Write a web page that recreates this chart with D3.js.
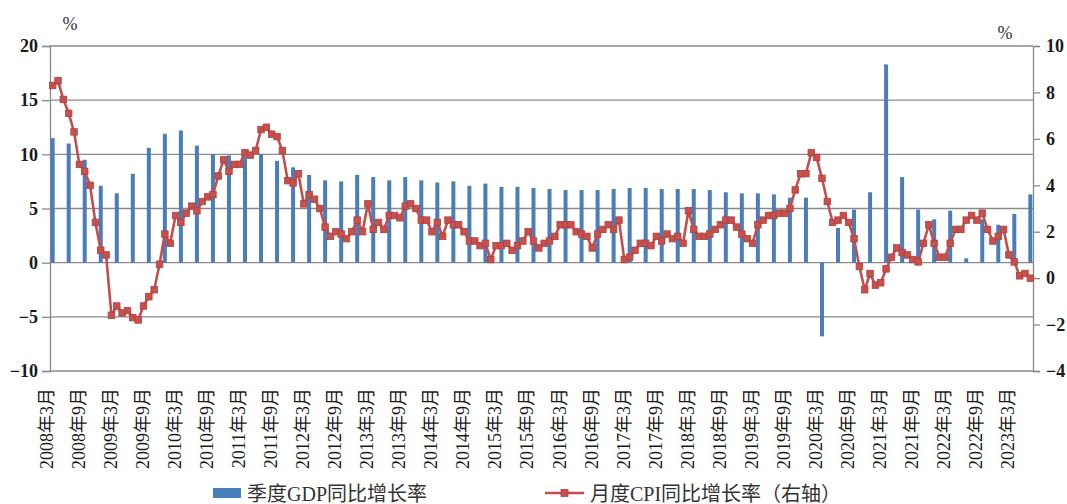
<!DOCTYPE html>
<html>
<head>
<meta charset="utf-8">
<script src="https://cdn.jsdelivr.net/npm/d3@7"></script>
<style>
  html, body { margin: 0; padding: 0; background: #fff; }
  svg { display: block; }
</style>
</head>
<body>
<svg id="chart" width="1067" height="504"></svg>
<script>
// ---------- data ----------
const startYear = 2008, startMonth = 3;           // first monthly category
const tickLabels = ["2008年3月","2008年9月","2009年3月","2009年9月","2010年3月","2010年9月",
  "2011年3月","2011年9月","2012年3月","2012年9月","2013年3月","2013年9月","2014年3月","2014年9月",
  "2015年3月","2015年9月","2016年3月","2016年9月","2017年3月","2017年9月","2018年3月","2018年9月",
  "2019年3月","2019年9月","2020年3月","2020年9月","2021年3月","2021年9月","2022年3月","2022年9月",
  "2023年3月"];
// quarterly GDP y/y growth, 2008Q1 .. 2023Q2 (left axis)
const gdpValues = [
  11.5, 11.0, 9.5, 7.1,
  6.4, 8.2, 10.6, 11.9,
  12.2, 10.8, 10.0, 9.9,
  9.8, 10.0, 9.4, 8.8,
  8.1, 7.6, 7.5, 8.1,
  7.9, 7.6, 7.9, 7.6,
  7.4, 7.5, 7.1, 7.3,
  7.0, 7.0, 6.9, 6.8,
  6.7, 6.7, 6.7, 6.8,
  6.9, 6.9, 6.8, 6.8,
  6.8, 6.7, 6.5, 6.4,
  6.4, 6.3, 6.0, 6.0,
  -6.8, 3.2, 4.9, 6.5,
  18.3, 7.9, 4.9, 4.0,
  4.8, 0.4, 4.0, 3.5,
  4.5, 6.3
];
// monthly CPI y/y growth, 2008-03 .. 2023-06 (right axis)
const cpiValues = [
  8.3, 8.5, 7.7, 7.1, 6.3, 4.9, 4.6, 4.0, 2.4, 1.2,
  1.0, -1.6, -1.2, -1.5, -1.4, -1.7, -1.8, -1.2, -0.8, -0.5, 0.6, 1.9,
  1.5, 2.7, 2.4, 2.8, 3.1, 2.9, 3.3, 3.5, 3.6, 4.4, 5.1, 4.6,
  4.9, 4.9, 5.4, 5.3, 5.5, 6.4, 6.5, 6.2, 6.1, 5.5, 4.2, 4.1,
  4.5, 3.2, 3.6, 3.4, 3.0, 2.2, 1.8, 2.0, 1.9, 1.7, 2.0, 2.5,
  2.0, 3.2, 2.1, 2.4, 2.1, 2.7, 2.7, 2.6, 3.1, 3.2, 3.0, 2.5,
  2.5, 2.0, 2.4, 1.8, 2.5, 2.3, 2.3, 2.0, 1.6, 1.6, 1.4, 1.5,
  0.8, 1.4, 1.4, 1.5, 1.2, 1.4, 1.6, 2.0, 1.6, 1.3, 1.5, 1.6,
  1.8, 2.3, 2.3, 2.3, 2.0, 1.9, 1.8, 1.3, 1.9, 2.1, 2.3, 2.1,
  2.5, 0.8, 0.9, 1.2, 1.5, 1.5, 1.4, 1.8, 1.6, 1.9, 1.7, 1.8,
  1.5, 2.9, 2.1, 1.8, 1.8, 1.9, 2.1, 2.3, 2.5, 2.5, 2.2, 1.9,
  1.7, 1.5, 2.3, 2.5, 2.7, 2.7, 2.8, 2.8, 3.0, 3.8, 4.5, 4.5,
  5.4, 5.2, 4.3, 3.3, 2.4, 2.5, 2.7, 2.4, 1.7, 0.5, -0.5, 0.2,
  -0.3, -0.2, 0.4, 0.9, 1.3, 1.1, 1.0, 0.8, 0.7, 1.5, 2.3, 1.5,
  0.9, 0.9, 1.5, 2.1, 2.1, 2.5, 2.7, 2.5, 2.8, 2.1, 1.6, 1.8,
  2.1, 1.0, 0.7, 0.1, 0.2, 0.0
];
const leftTicks = [-10, -5, 0, 5, 10, 15, 20];
const rightTicks = [-4, -2, 0, 2, 4, 6, 8, 10];
const seriesNames = ["季度GDP同比增长率", "月度CPI同比增长率（右轴）"];

// categories: one per month
const categories = cpiValues.map((_, i) => {
  const m = startMonth - 1 + i;
  return (startYear + Math.floor(m / 12)) + "年" + (m % 12 + 1) + "月";
});
const gdpData = gdpValues.map((v, k) => ({ cat: categories[k * 3], v }));
const cpiData = cpiValues.map((v, i) => ({ cat: categories[i], v }));

// ---------- layout ----------
const FONT = "'Liberation Serif', 'Noto Sans CJK SC', serif";
const L = 50, R = 1033, T = 46, B = 371;
const svg = d3.select("#chart");

const x = d3.scaleBand().domain(categories).range([L, R]).paddingInner(0).paddingOuter(0);
const yL = d3.scaleLinear().domain([-10, 20]).range([B, T]);
const yR = d3.scaleLinear().domain([-4, 10]).range([B, T]);
const cx = c => x(c) + x.bandwidth() / 2;

const gridColor = "#8a8a8a";

// gridlines
svg.append("g").selectAll("line").data(leftTicks).join("line")
  .attr("x1", L).attr("x2", R)
  .attr("y1", d => yL(d)).attr("y2", d => yL(d))
  .attr("stroke", gridColor).attr("stroke-width", 1.3);

// left axis
const gLeft = svg.append("g").attr("transform", `translate(${L},0)`)
  .call(d3.axisLeft(yL).tickValues(leftTicks).tickSize(8).tickPadding(4).tickFormat(d3.format("d")));
gLeft.select(".domain").attr("stroke", gridColor).attr("stroke-width", 1.3);
gLeft.selectAll(".tick line").attr("stroke", gridColor).attr("stroke-width", 1.3);
gLeft.selectAll(".tick text").style("font-family", FONT).style("font-weight", "bold")
  .style("font-size", "18px").attr("fill", "#1a1a1a");

// right axis
const gRight = svg.append("g").attr("transform", `translate(${R},0)`)
  .call(d3.axisRight(yR).tickValues(rightTicks).tickSize(7).tickPadding(6).tickFormat(d3.format("d")));
gRight.select(".domain").attr("stroke", gridColor).attr("stroke-width", 1.3);
gRight.selectAll(".tick line").attr("stroke", gridColor).attr("stroke-width", 1.3);
gRight.selectAll(".tick text").style("font-family", FONT).style("font-weight", "bold")
  .style("font-size", "18px").attr("fill", "#1a1a1a");

// unit labels
svg.append("text").attr("x", 70).attr("y", 24).attr("text-anchor", "middle")
  .attr("dominant-baseline", "central").style("font-family", FONT).style("font-size", "18px")
  .attr("fill", "#333").text("%");
svg.append("text").attr("x", 1005).attr("y", 33).attr("text-anchor", "middle")
  .attr("dominant-baseline", "central").style("font-family", FONT).style("font-size", "18px")
  .attr("fill", "#333").text("%");

// GDP bars
const barW = 4;
svg.append("g").selectAll("rect").data(gdpData).join("rect")
  .attr("x", d => cx(d.cat) - barW / 2)
  .attr("width", barW)
  .attr("y", d => Math.min(yL(d.v), yL(0)))
  .attr("height", d => Math.abs(yL(d.v) - yL(0)))
  .attr("fill", "#4a7ebb");

// CPI line
const line = d3.line().x(d => cx(d.cat)).y(d => yR(d.v));
svg.append("path").datum(cpiData).attr("d", line)
  .attr("fill", "none").attr("stroke", "#c0504d").attr("stroke-width", 2.6)
  .attr("stroke-linejoin", "round");
const ms = 6.5;
svg.append("g").selectAll("rect").data(cpiData).join("rect")
  .attr("x", d => cx(d.cat) - ms / 2).attr("y", d => yR(d.v) - ms / 2)
  .attr("width", ms).attr("height", ms)
  .attr("fill", "#c6504d").attr("stroke", "#b23f3c").attr("stroke-width", 0.8);

// category labels (every 6 months)
const labelCats = categories.filter(c => tickLabels.includes(c));
svg.append("g").selectAll("text").data(labelCats).join("text")
  .attr("transform", d => `translate(${cx(d) - 6},388) rotate(-90)`)
  .attr("text-anchor", "end").attr("dominant-baseline", "central")
  .style("font-family", FONT).style("font-size", "18px").attr("fill", "#1a1a1a")
  .text(d => d);

// legend
const lg = svg.append("g");
lg.append("rect").attr("x", 213).attr("y", 488).attr("width", 28).attr("height", 10).attr("fill", "#4a7ebb");
lg.append("text").attr("x", 247).attr("y", 494).attr("dominant-baseline", "central")
  .style("font-family", FONT).style("font-size", "20px").attr("fill", "#333").text(seriesNames[0]);
lg.append("line").attr("x1", 545).attr("x2", 584).attr("y1", 493).attr("y2", 493)
  .attr("stroke", "#c0504d").attr("stroke-width", 2.6);
lg.append("rect").attr("x", 561).attr("y", 489.5).attr("width", 7).attr("height", 7)
  .attr("fill", "#c6504d").attr("stroke", "#b23f3c").attr("stroke-width", 0.8);
lg.append("text").attr("x", 590).attr("y", 494).attr("dominant-baseline", "central")
  .style("font-family", FONT).style("font-size", "20px").attr("fill", "#333").text(seriesNames[1]);
</script>
</body>
</html>
